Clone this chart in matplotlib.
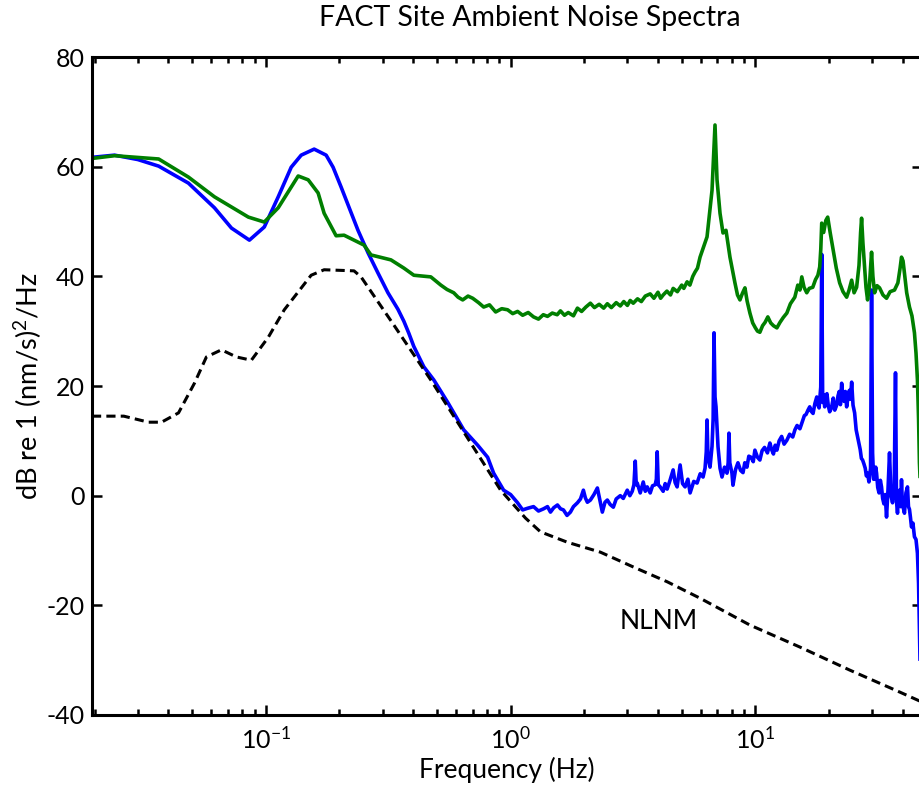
import matplotlib
matplotlib.use("Agg")
import matplotlib.pyplot as plt
import numpy as np
from matplotlib.ticker import LogLocator, NullFormatter

plt.rcParams['font.family'] = ['Lato', 'DejaVu Sans']
plt.rcParams['mathtext.fontset'] = 'custom'
plt.rcParams['mathtext.rm'] = 'Lato'
plt.rcParams['mathtext.it'] = 'Lato:italic'
plt.rcParams['mathtext.bf'] = 'Lato:bold'
plt.rcParams['axes.unicode_minus'] = False

# blue spectrum, (freq Hz, dB)
blue_pts = [
    (0.0195, 61.7), (0.0241, 62.1), (0.0300, 61.3), (0.0365, 60.1), (0.0483, 57.0),
    (0.0617, 52.5), (0.0724, 48.8), (0.0857, 46.6), (0.0986, 49.0), (0.1124, 54.5),
    (0.1270, 59.9), (0.1395, 62.1), (0.1576, 63.2), (0.1764, 62.1), (0.1883, 59.9),
    (0.2030, 56.3), (0.2188, 52.6), (0.2380, 48.4), (0.2615, 44.3), (0.2873, 40.6),
    (0.3155, 37.0), (0.3465, 34.0), (0.3665, 31.8), (0.3841, 29.6), (0.4025, 27.2),
    (0.4421, 23.5), (0.4857, 21.1), (0.5537, 17.0), (0.6435, 12.0), (0.7337, 9.2),
    (0.8058, 7.0), (0.8526, 4.1), (0.9365, 1.0), (1.000, 0.2), (1.068, -1.3),
    (1.12, -2.6), (1.173, -2.3), (1.241, -2.0), (1.30, -2.8), (1.363, -2.4),
    (1.415, -2.0), (1.455, -3.0), (1.50, -2.2), (1.554, -1.7), (1.60, -2.4),
    (1.644, -2.6), (1.70, -3.6), (1.755, -3.0), (1.806, -2.0), (1.875, -1.3),
    (1.93, -0.6), (1.983, 1.0), (2.02, -0.4), (2.059, -1.2), (2.118, -0.8),
    (2.19, 0.2), (2.262, 1.4), (2.31, -0.6), (2.370, -3.0), (2.43, -1.2),
    (2.484, -0.8), (2.55, -1.6), (2.628, -2.1), (2.70, -0.6), (2.806, 0.0),
    (2.886, -0.5), (2.996, 1.0), (3.07, 0.0), (3.140, 0.8), (3.19, 2.0),
    (3.230, 6.3), (3.26, 2.0), (3.291, 2.3), (3.385, 0.5), (3.482, 2.5),
    (3.55, 0.8), (3.614, 1.6), (3.718, 0.5), (3.80, 1.8), (3.896, 2.0),
    (3.940, 3.0), (3.970, 8.0), (4.010, 2.0), (4.083, 1.6), (4.200, 0.8),
    (4.28, 2.2), (4.360, 1.2), (4.48, 2.8), (4.613, 4.7), (4.70, 2.4),
    (4.789, 1.6), (4.926, 5.6), (5.04, 2.2), (5.162, 1.6), (5.30, 3.0),
    (5.411, 0.5), (5.60, 2.6), (5.778, 2.3), (5.95, 4.0), (6.112, 3.4),
    (6.228, 5.0), (6.30, 8.0), (6.345, 13.8), (6.40, 7.0), (6.527, 5.2),
    (6.650, 9.0), (6.72, 14.0), (6.776, 29.7), (6.84, 18.0), (6.904, 16.2),
    (7.036, 8.9), (7.17, 5.0), (7.304, 3.4), (7.48, 5.2), (7.654, 4.1),
    (7.74, 6.0), (7.799, 11.4), (7.86, 6.0), (8.021, 4.1), (8.097, 1.9),
    (8.30, 4.8), (8.486, 6.0), (8.70, 4.6), (8.900, 4.2), (9.05, 6.0),
    (9.234, 5.2), (9.40, 7.2), (9.600, 7.0), (9.80, 6.2), (9.954, 8.3),
    (10.2, 7.0), (10.43, 6.5), (10.65, 8.2), (10.90, 8.8), (11.2, 7.8),
    (11.46, 9.6), (11.65, 8.4), (11.85, 7.6), (12.05, 9.2), (12.24, 8.3),
    (12.5, 10.0), (12.80, 10.8), (13.1, 9.4), (13.44, 10.1), (13.8, 11.2),
    (14.21, 10.7), (14.5, 12.0), (14.80, 12.8), (15.2, 12.2), (15.62, 13.8),
    (15.85, 14.6), (16.10, 14.8), (16.4, 15.6), (16.67, 16.2), (16.9, 15.4),
    (17.20, 15.0), (17.5, 16.8), (17.81, 18.0), (18.0, 16.6), (18.20, 16.0),
    (18.35, 18.0), (18.49, 19.8), (18.57, 30.0), (18.66, 44.0), (18.75, 30.0),
    (18.83, 17.0), (19.00, 18.4), (19.19, 16.2), (19.40, 17.6), (19.60, 18.6),
    (19.85, 16.4), (20.11, 15.3), (20.45, 16.0), (20.80, 17.8), (21.10, 15.6),
    (21.48, 16.5), (21.75, 18.2), (22.00, 19.0), (22.25, 16.6), (22.51, 20.5),
    (22.75, 18.0), (23.00, 17.2), (23.30, 19.0), (23.59, 16.2), (23.90, 18.0),
    (24.20, 19.2), (24.45, 17.6), (24.73, 20.7), (25.05, 16.5), (25.43, 15.1),
    (25.80, 12.0), (26.15, 10.7), (26.50, 9.5), (26.80, 8.4), (27.10, 6.8),
    (27.41, 6.5), (27.75, 5.8), (28.10, 5.0), (28.40, 3.6), (28.72, 4.1),
    (29.10, 2.5), (29.54, 5.0), (29.82, 37.5), (30.11, 7.8), (30.40, 3.0),
    (30.70, 3.0), (31.00, 5.2), (31.26, 4.1), (31.60, 1.5), (32.00, 0.5),
    (32.40, 2.8), (32.75, 1.6), (33.10, -0.5), (33.50, -1.5), (33.90, 0.2),
    (34.33, -3.9), (34.80, 1.0), (35.31, 7.8), (35.80, 0.0), (36.32, -1.3),
    (36.90, 1.5), (37.35, 22.4), (37.70, -1.0), (38.06, -3.2), (38.40, 0.0),
    (38.80, 1.0), (39.20, -2.0), (39.52, 2.9), (39.80, -1.0), (40.10, -2.0),
    (40.64, -3.2), (41.20, 0.5), (41.81, 1.6), (42.20, -2.0), (42.60, -2.5),
    (43.00, -4.0), (43.41, -5.7), (44.00, -5.0), (44.64, -7.5), (45.30, -8.0),
    (45.91, -10.5), (46.40, -16.0), (46.78, -25.0), (47.20, -33.0), (47.60, -38.0),
]

# green spectrum, (freq Hz, dB)
green_pts = [
    (0.0195, 61.5), (0.0241, 62.0), (0.0365, 61.4), (0.0483, 58.1), (0.0617, 54.5),
    (0.0849, 50.8), (0.0986, 49.9), (0.1124, 52.5), (0.1356, 58.3), (0.1490, 57.6),
    (0.1636, 55.2), (0.1731, 51.5), (0.1937, 47.4), (0.2088, 47.5), (0.2519, 45.7),
    (0.2690, 43.9), (0.3245, 43.0), (0.3665, 41.5), (0.4025, 40.2), (0.4721, 39.9),
    (0.5188, 38.4), (0.55, 37.6), (0.5857, 37.0), (0.61, 36.2), (0.6374, 35.7),
    (0.67, 36.4), (0.7002, 36.0), (0.74, 35.2), (0.7762, 34.4), (0.82, 34.8),
    (0.8688, 33.5), (0.92, 34.1), (0.9723, 33.9), (1.02, 33.2), (1.068, 33.6),
    (1.12, 32.9), (1.18, 33.4), (1.241, 32.6), (1.30, 32.2), (1.36, 33.0),
    (1.415, 32.7), (1.48, 33.3), (1.55, 33.0), (1.598, 33.7), (1.66, 32.9),
    (1.72, 33.4), (1.806, 32.8), (1.875, 34.2), (1.95, 33.6), (2.03, 34.4),
    (2.118, 35.1), (2.20, 34.3), (2.30, 34.9), (2.40, 34.2), (2.484, 35.0),
    (2.58, 34.3), (2.70, 35.2), (2.806, 34.6), (2.90, 35.4), (3.00, 34.7),
    (3.08, 35.6), (3.170, 35.1), (3.30, 35.9), (3.42, 35.4), (3.55, 36.4),
    (3.718, 36.8), (3.85, 36.0), (4.00, 37.1), (4.100, 36.0), (4.200, 36.6),
    (4.35, 37.3), (4.50, 36.6), (4.613, 37.8), (4.80, 37.2), (5.00, 38.4),
    (5.10, 37.8), (5.260, 39.0), (5.40, 38.4), (5.55, 40.0), (5.670, 40.8),
    (5.80, 41.5), (5.942, 43.5), (6.345, 47.2), (6.650, 55.7), (6.839, 67.6),
    (6.970, 57.6), (7.169, 51.5), (7.373, 47.9), (7.583, 48.4), (7.872, 43.5),
    (8.250, 38.8), (8.45, 36.6), (8.648, 35.7), (8.85, 36.9), (9.063, 37.9),
    (9.25, 35.5), (9.497, 33.3), (9.75, 31.5), (10.00, 30.6), (10.20, 30.0),
    (10.43, 29.8), (10.70, 31.0), (10.95, 31.6), (11.24, 32.6), (11.55, 31.5),
    (11.85, 31.0), (12.24, 30.6), (12.60, 31.6), (13.00, 32.5), (13.44, 33.3),
    (13.90, 35.0), (14.20, 35.6), (14.49, 36.2), (14.90, 38.4), (15.20, 37.5),
    (15.47, 39.9), (15.80, 38.0), (16.21, 37.0), (16.60, 37.8), (17.15, 38.0),
    (17.60, 39.4), (18.00, 40.2), (18.31, 41.7), (18.50, 45.0), (18.66, 49.7),
    (19.00, 48.0), (19.40, 50.2), (19.74, 50.8), (20.20, 48.0), (20.69, 45.3),
    (21.40, 41.5), (22.09, 38.8), (22.80, 37.2), (23.59, 36.2), (24.10, 37.4),
    (24.73, 39.3), (25.30, 37.0), (25.91, 38.0), (26.50, 42.0), (26.90, 48.0),
    (27.15, 50.6), (27.50, 46.0), (27.93, 41.7), (28.30, 38.0), (28.72, 35.7),
    (29.20, 38.0), (29.82, 44.4), (30.20, 40.0), (30.68, 37.0), (31.40, 38.3),
    (32.15, 37.9), (33.20, 36.6), (34.33, 36.0), (35.50, 37.2), (37.00, 37.5),
    (38.20, 38.8), (39.00, 41.5), (39.52, 43.5), (40.10, 42.8), (40.64, 40.6),
    (41.50, 37.0), (42.60, 34.4), (43.60, 32.8), (44.64, 29.7), (45.30, 26.0),
    (45.91, 21.1), (46.40, 14.0), (46.78, 6.0), (47.60, -2.0),
]

# NLNM, (freq Hz, dB)
nlnm_pts = [
    (0.0195, 14.5), (0.0263, 14.5), (0.0332, 13.4), (0.0375, 13.4), (0.0440, 15.1),
    (0.0511, 20.5), (0.0572, 25.3), (0.0659, 26.6), (0.0758, 25.3), (0.0873, 24.7),
    (0.1024, 28.9), (0.1190, 33.9), (0.1532, 40.2), (0.1731, 41.2), (0.2293, 41.0),
    (0.2449, 39.9), (0.3337, 31.1), (0.4721, 21.1), (0.9105, 1.0), (1.151, -4.1),
    (1.325, -6.6), (1.707, -8.5), (2.326, -10.3), (3.170, -13.0), (4.360, -15.7),
    (5.942, -18.7), (9.50, -23.6), (15.18, -27.6), (24.26, -31.8), (38.79, -35.8),
    (47.70, -37.6),
]

blue_f, blue_db = zip(*blue_pts)
green_f, green_db = zip(*green_pts)
nlnm_f, nlnm_db = zip(*nlnm_pts)

fig = plt.figure(figsize=(9.2, 7.97), dpi=100)
ax = fig.add_axes([92/920, 82/797, 829.5/920, 658/797])

ax.plot(blue_f, blue_db, color='#0000ff', lw=2.6)
ax.plot(green_f, green_db, color='#007f00', lw=2.6)
ax.plot(nlnm_f, nlnm_db, color='black', lw=2.2, linestyle=(0, (3, 1.7)))
ax.text(4.04, -23, 'NLNM', ha='center', va='center', fontsize=19)

ax.set_xscale('log')
ax.set_xlim(0.0195, 47.7)
ax.set_ylim(-40, 80)
ax.set_yticks([-40, -20, 0, 20, 40, 60, 80])
ax.xaxis.set_major_locator(LogLocator(base=10, numticks=10))
ax.xaxis.set_minor_locator(LogLocator(base=10, subs=np.arange(2, 10), numticks=20))
ax.xaxis.set_minor_formatter(NullFormatter())

for s in ax.spines.values():
    s.set_linewidth(2.2)
ax.tick_params(which='both', direction='in', top=True, right=True, width=1.8)
ax.tick_params(which='major', length=7, labelsize=18)
ax.tick_params(axis='x', which='major', pad=8)
ax.tick_params(axis='y', which='major', pad=5)
ax.tick_params(which='minor', length=4)

ax.set_xlabel('Frequency (Hz)', fontsize=19, labelpad=3)
ax.set_ylabel('dB re 1 (nm/s)$^2$/Hz', fontsize=19.5, labelpad=2)
fig.text(530/920, 1 - 18/797, 'FACT Site Ambient Noise Spectra', ha='center', va='center', fontsize=20.5)

fig.savefig('out.png', dpi=100)
